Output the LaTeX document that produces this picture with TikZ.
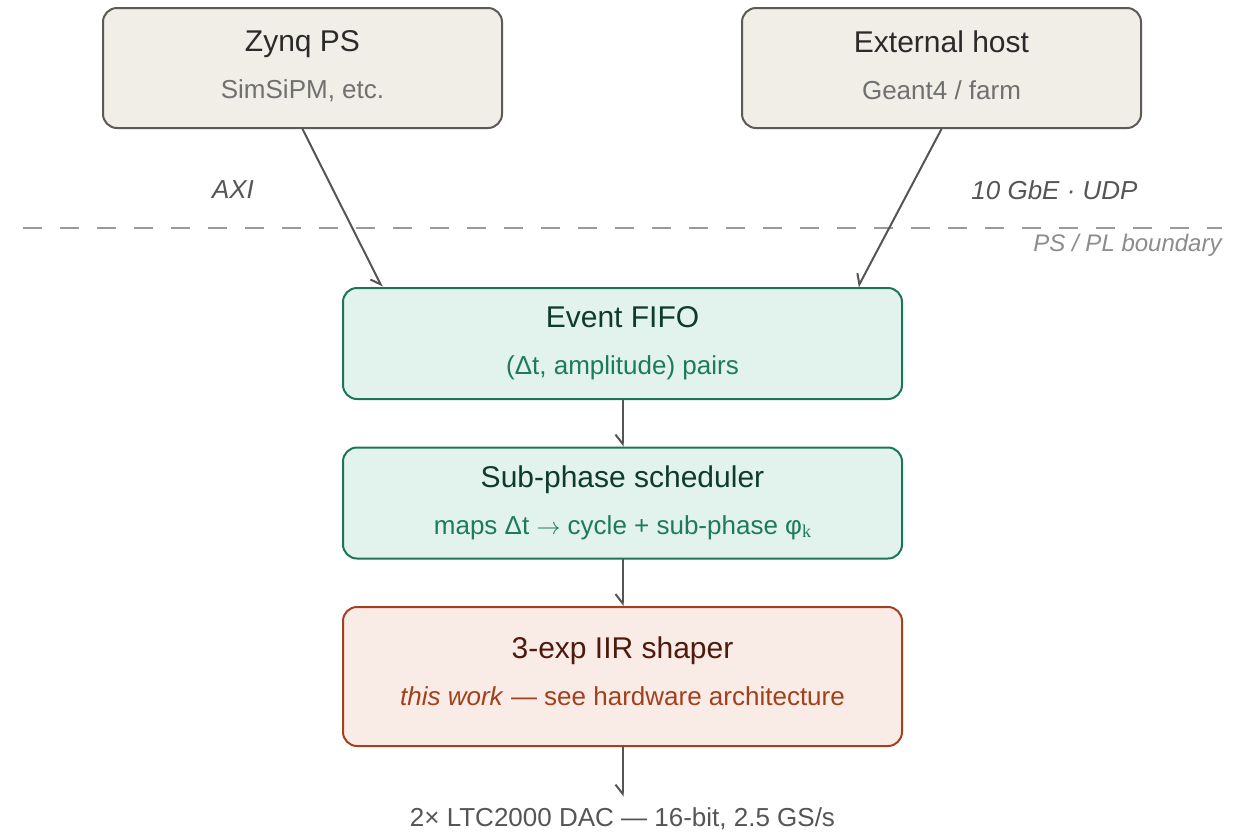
\documentclass[tikz,border=0pt]{standalone}
\usepackage{fontspec}
\setmainfont{Liberation Sans}
\newfontfamily\serifsub{Liberation Serif}
\usetikzlibrary{arrows.meta,calc}

\definecolor{psfill}{HTML}{F1EEE8}
\definecolor{psline}{HTML}{5C5A57}
\definecolor{pstitle}{HTML}{2A2A2A}
\definecolor{pssub}{HTML}{707070}
\definecolor{plfill}{HTML}{E1F3EC}
\definecolor{plline}{HTML}{1B7557}
\definecolor{pltitle}{HTML}{0F3B2C}
\definecolor{plsub}{HTML}{1F7A5C}
\definecolor{iirfill}{HTML}{F9EBE6}
\definecolor{iirline}{HTML}{A5401F}
\definecolor{iirtitle}{HTML}{4D1A0C}
\definecolor{iirsub}{HTML}{A3401C}
\definecolor{wire}{HTML}{555555}

\newcommand{\blocktitle}[1]{{\fontsize{15}{23.5}\selectfont #1}}
\newcommand{\blocksub}[2][3pt]{#2\rule[-#1]{0pt}{0pt}}

\tikzset{
	block/.style={rounded corners=7pt, line width=1pt, align=center,
		font=\fontsize{13}{23.5}\selectfont, inner sep=0pt},
	psblock/.style={block, draw=psline, fill=psfill, text=pssub,
		minimum width=199.5pt, minimum height=60pt},
	plblock/.style={block, draw=plline, fill=plfill, text=plsub,
		minimum width=279.5pt, minimum height=55.5pt},
	iirblock/.style={block, draw=iirline, fill=iirfill, text=iirsub,
		minimum width=279.5pt, minimum height=69.5pt},
	link/.style={draw=wire, line width=1pt,
		-{Straight Barb[right, length=4.5pt, width=7pt]}},
	buslabel/.style={text=wire, inner sep=0pt, font=\fontsize{13}{16}\selectfont\itshape}
}

\begin{document}
\begin{tikzpicture}[x=0.5pt, y=-0.5pt, line join=round, line cap=round]
	\useasboundingbox (0,0) rectangle (1243,832);
	% processing system side
	\node[psblock] (zynq) at (302.5,68)
		{\blocktitle{\color{pstitle}Zynq PS}\\\blocksub{SimSiPM, etc.}};
	\node[psblock] (host) at (941.5,68)
		{\blocktitle{\color{pstitle}External host}\\\blocksub{Geant4 / farm}};
	\node[buslabel] (axi) at (233,190) {AXI};
	\node[buslabel, anchor=east] (eth) at (1138,190) {10 GbE · UDP};
	% PS / PL boundary
	\draw[draw=black!40, line width=1pt, dash pattern=on 9.5pt off 9pt, line cap=butt]
		(23,228) -- (1222,228);
	\node[anchor=east, inner sep=0pt, text=black!45, font=\fontsize{12}{14}\selectfont\itshape]
		(bound) at (1222,245) {PS / PL boundary};
	% programmable logic chain
	\node[plblock] (fifo) at (622.5,343.5)
		{\blocktitle{\color{pltitle}Event FIFO}\\\blocksub{(Δt, amplitude) pairs}};
	\node[plblock] (sched) at (622.5,503)
		{\blocktitle{\color{pltitle}Sub-phase scheduler}\\
		\blocksub{maps Δt $\rightarrow$ cycle + sub-phase φ\raisebox{-1.5pt}{\fontsize{9}{9}\serifsub k}}};
	\node[iirblock] (iir) at (622.5,676.5)
		{\blocktitle{\color{iirtitle}3-exp IIR shaper}\\
		\blocksub[5.5pt]{\textit{this work} — see hardware architecture}};
	\node[text=wire, font=\fontsize{13}{16}\selectfont, inner sep=5.5pt]
		(dac) at (622.5,819) {2× LTC2000 DAC — 16-bit, 2.5 GS/s};
	% connections
	\draw[link] (zynq.south) -- ($(fifo.north west)+(40,0)$);
	\draw[link] (host.south) -- ($(fifo.north east)+(-45,0)$);
	\draw[link] (fifo) -- (sched);
	\draw[link] (sched) -- (iir);
	\draw[link] (iir) -- (dac);
\end{tikzpicture}
\end{document}
